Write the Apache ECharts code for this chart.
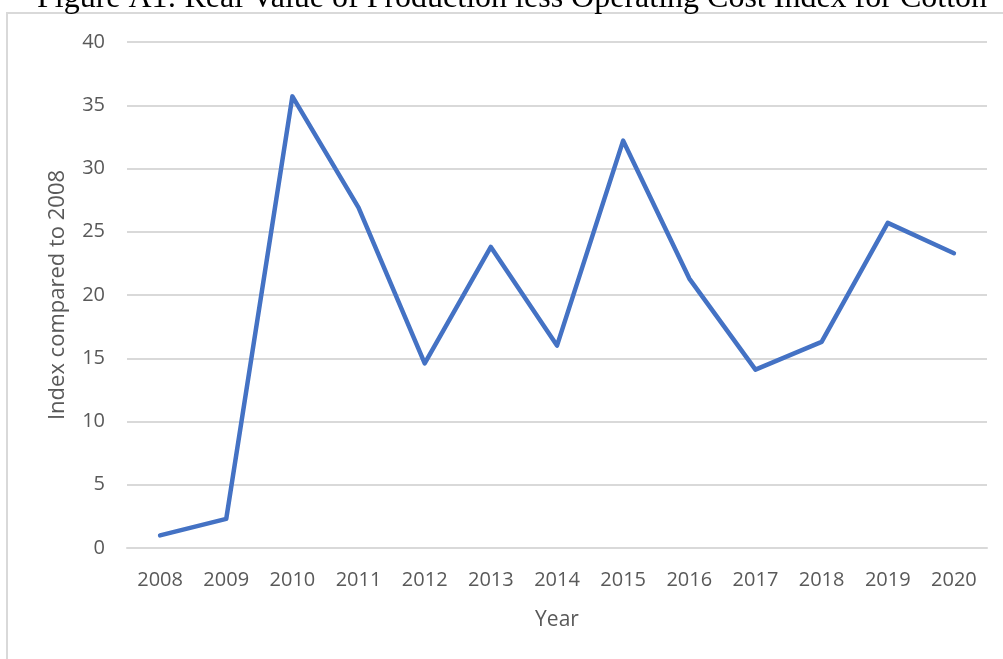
<!DOCTYPE html>
<html>
<head>
<meta charset="utf-8">
<script src="https://cdn.jsdelivr.net/npm/echarts@6/dist/echarts.min.js"></script>
<style>
  html, body { margin: 0; padding: 0; background: #ffffff; }
  #chart { width: 1003px; height: 659px; }
</style>
</head>
<body>
<div id="chart"></div>
<script>
// Years on the category axis
const years = ['2008', '2009', '2010', '2011', '2012', '2013', '2014', '2015', '2016', '2017', '2018', '2019', '2020'];
// Real value of production less operating cost, index compared to 2008
const indexValues = [1.0, 2.3, 35.7, 26.9, 14.6, 23.8, 16.0, 32.2, 21.3, 14.1, 16.3, 25.7, 23.3];
// Value axis range and step
const yMin = 0;
const yMax = 40;
const yStep = 5;

const titleText = 'Figure A1: Real Value of Production less Operating Cost Index for Cotton';
const labelFont = '"Open Sans", "Noto Sans", sans-serif';

const chart = echarts.init(document.getElementById('chart'), null, { renderer: 'canvas' });

chart.setOption({
  backgroundColor: '#ffffff',
  animation: false,
  graphic: [
    {
      // chart area frame
      type: 'rect',
      shape: { x: 7, y: 13, width: 1020, height: 680 },
      style: { fill: 'none', stroke: '#d9d9d9', lineWidth: 2 },
      silent: true,
      z: 0
    },
    {
      // figure caption sitting above the frame
      type: 'text',
      x: 512,
      y: -17,
      style: {
        text: titleText,
        font: '32px "Liberation Serif", "DejaVu Serif", serif',
        fill: '#000000',
        align: 'center',
        verticalAlign: 'top'
      },
      silent: true,
      z: 10
    }
  ],
  grid: {
    left: 127,
    right: 16,
    top: 42,
    bottom: 111,
    containLabel: false
  },
  xAxis: {
    type: 'category',
    data: years,
    boundaryGap: true,
    name: 'Year',
    nameLocation: 'middle',
    nameGap: 62,
    nameTextStyle: { fontFamily: labelFont, fontSize: 21, color: '#595959' },
    axisLine: { show: true, lineStyle: { color: '#d9d9d9', width: 2 } },
    axisTick: { show: false },
    axisLabel: {
      fontFamily: labelFont,
      fontSize: 20,
      color: '#595959',
      margin: 22,
      interval: 0
    }
  },
  yAxis: {
    type: 'value',
    min: yMin,
    max: yMax,
    interval: yStep,
    name: 'Index compared to 2008',
    nameLocation: 'middle',
    nameGap: 58,
    nameRotate: 90,
    nameTextStyle: { fontFamily: labelFont, fontSize: 22, color: '#595959' },
    axisLine: { show: false },
    axisTick: { show: false },
    splitLine: { show: true, lineStyle: { color: '#d9d9d9', width: 2 } },
    axisLabel: {
      fontFamily: labelFont,
      fontSize: 20,
      color: '#595959',
      margin: 22
    }
  },
  series: [
    {
      type: 'line',
      data: indexValues,
      symbol: 'none',
      smooth: false,
      lineStyle: { color: '#4472C4', width: 4.5, cap: 'round', join: 'round' },
      z: 5
    }
  ]
});
</script>
</body>
</html>
